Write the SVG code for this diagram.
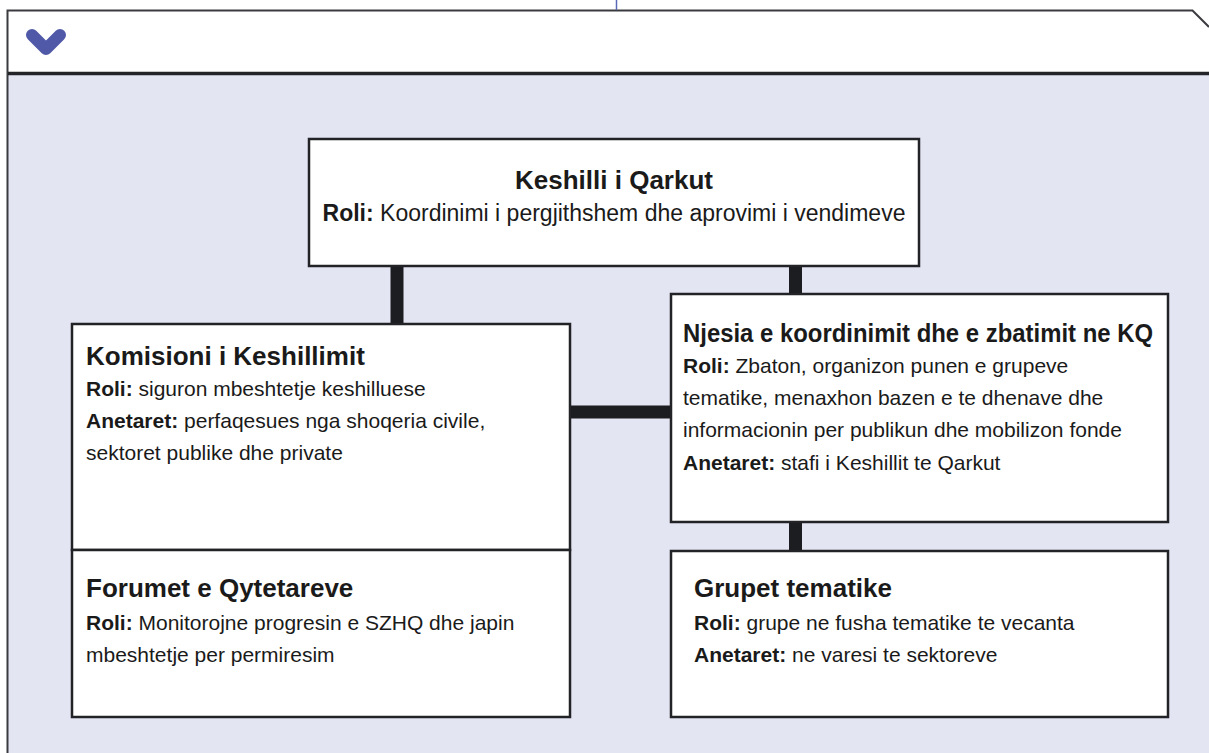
<svg xmlns="http://www.w3.org/2000/svg" width="1209" height="753" viewBox="0 0 1209 753">
<style>
.box{fill:#ffffff;stroke:#222326;stroke-width:2.5}
.conn{stroke:#1c1d21;stroke-width:13;fill:none}
text{font-family:"Liberation Sans",Arial,sans-serif;fill:#1a1a1a}
.t{font-size:26px;font-weight:bold}
.b{font-size:21px}
.b2{font-size:23px}
.k{font-weight:bold}
</style>
<rect x="0" y="0" width="1209" height="753" fill="#ffffff"/>
<g id="frame">
<rect x="8" y="74" width="1201" height="679" fill="#e3e5f3"/>
<path d="M7.5 753 V10.5 H1192.5 L1209 27" fill="none" stroke="#3a3b3e" stroke-width="2"/>
<line x1="8" y1="73.5" x2="1209" y2="73.5" stroke="#232427" stroke-width="3.5"/>
<line x1="616.5" y1="0" x2="616.5" y2="10" stroke="#5b68b6" stroke-width="1.5"/>
<path d="M32 35 L46 49 L60 35" fill="none" stroke="#4f59a8" stroke-width="12" stroke-linecap="round" stroke-linejoin="round"/>
</g>
<g id="connectors">
<line class="conn" x1="397" y1="266" x2="397" y2="323"/>
<line class="conn" x1="795.5" y1="266" x2="795.5" y2="293"/>
<line class="conn" x1="570" y1="412" x2="670" y2="412"/>
<line class="conn" x1="795.5" y1="522" x2="795.5" y2="550"/>
</g>
<g id="keshilli">
<rect class="box" x="309" y="139" width="610" height="127"/>
<text class="t" x="614" y="189" text-anchor="middle">Keshilli i Qarkut</text>
<text class="b2" x="614" y="221" text-anchor="middle"><tspan class="k">Roli:</tspan> Koordinimi i pergjithshem dhe aprovimi i vendimeve</text>
</g>
<g id="komisioni">
<rect class="box" x="72" y="324" width="498" height="226"/>
<text class="t" x="86" y="365">Komisioni i Keshillimit</text>
<text class="b" x="86" y="396"><tspan class="k">Roli:</tspan> siguron mbeshtetje keshilluese</text>
<text class="b" x="86" y="428"><tspan class="k">Anetaret:</tspan> perfaqesues nga shoqeria civile,</text>
<text class="b" x="86" y="460">sektoret publike dhe private</text>
</g>
<g id="njesia">
<rect class="box" x="671" y="294" width="497" height="228"/>
<text class="t" x="683" y="342" textLength="470" lengthAdjust="spacingAndGlyphs">Njesia e koordinimit dhe e zbatimit ne KQ</text>
<text class="b" x="683" y="373"><tspan class="k">Roli:</tspan> Zbaton, organizon punen e grupeve</text>
<text class="b" x="683" y="405">tematike, menaxhon bazen e te dhenave dhe</text>
<text class="b" x="683" y="437">informacionin per publikun dhe mobilizon fonde</text>
<text class="b" x="683" y="470"><tspan class="k">Anetaret:</tspan> stafi i Keshillit te Qarkut</text>
</g>
<g id="forumet">
<rect class="box" x="72" y="550" width="498" height="167"/>
<text class="t" x="86" y="597">Forumet e Qytetareve</text>
<text class="b" x="86" y="630"><tspan class="k">Roli:</tspan> Monitorojne progresin e SZHQ dhe japin</text>
<text class="b" x="86" y="662">mbeshtetje per permiresim</text>
</g>
<g id="grupet">
<rect class="box" x="671" y="551" width="497" height="166"/>
<text class="t" x="694" y="597">Grupet tematike</text>
<text class="b" x="694" y="630"><tspan class="k">Roli:</tspan> grupe ne fusha tematike te vecanta</text>
<text class="b" x="694" y="662"><tspan class="k">Anetaret:</tspan> ne varesi te sektoreve</text>
</g>
</svg>
